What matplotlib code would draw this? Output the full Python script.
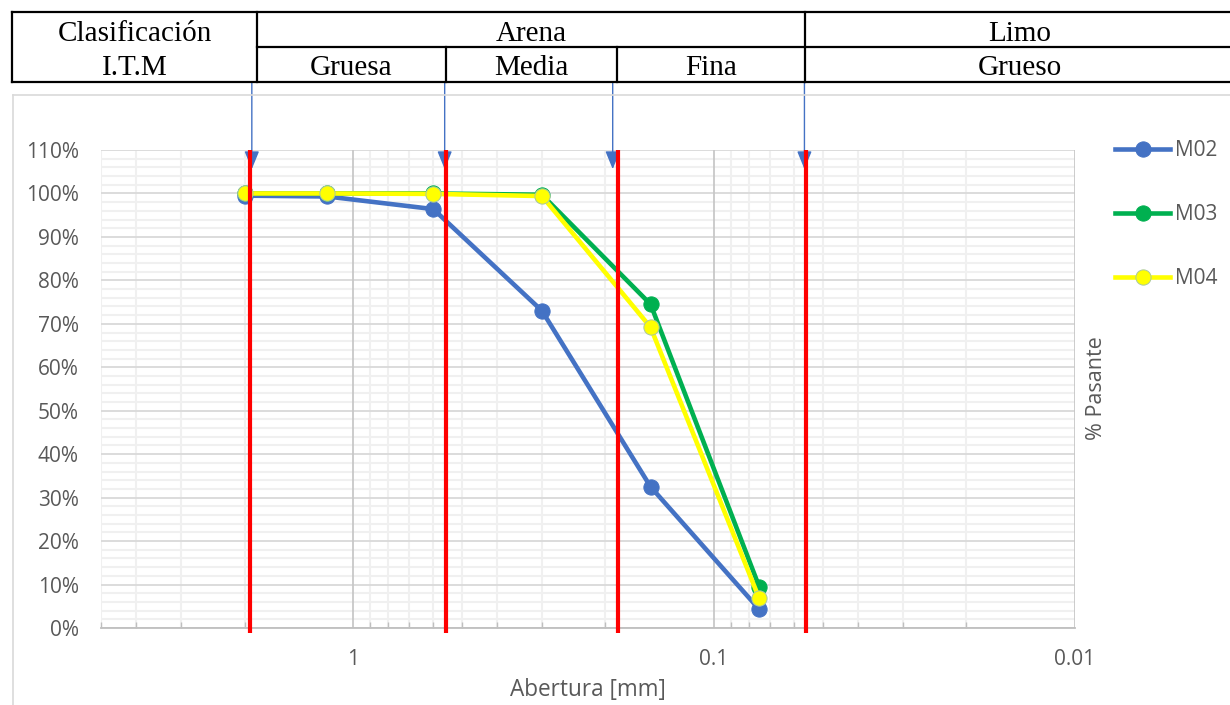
import matplotlib
matplotlib.use("Agg")
import matplotlib.pyplot as plt
from matplotlib.lines import Line2D
from matplotlib.ticker import FixedLocator, FuncFormatter, MultipleLocator, NullFormatter

# ---------- DATOS ----------
aberturas = [2.0, 1.18, 0.6, 0.3, 0.15, 0.075]   # mm
m02 = [99.5, 99.3, 96.4, 73.0, 32.5, 4.3]
m03 = [100.0, 100.0, 100.0, 99.7, 74.5, 9.5]
m04 = [100.0, 100.0, 99.9, 99.4, 69.2, 6.8]
series = [("M02", m02, "#4472C4"), ("M03", m03, "#00B050"), ("M04", m04, "#FFFF00")]

# limites de la clasificacion I.T.M (mm)
limites_itm = [1.93, 0.552, 0.185, 0.0555]
flechas_itm = [1.91, 0.558, 0.191, 0.0562]

encabezado_titulo = ["Clasificación", "I.T.M"]
encabezado_fila1 = ["Arena", "Limo"]
encabezado_fila2 = ["Gruesa", "Media", "Fina", "Grueso"]

x_ticks = [1, 0.1, 0.01]
x_tick_labels = ["1", "0.1", "0.01"]

# ---------- FIGURA ----------
W, H = 1230, 705
fig = plt.figure(figsize=(W / 100, H / 100), dpi=100)


def fx(px):
    return px / W


def fy(py):
    return 1 - py / H


ax = fig.add_axes([fx(101), fy(628), fx(1075) - fx(101), fy(150) - fy(628)])
ax.set_xscale("log")
ax.set_xlim(5, 0.01)
ax.set_ylim(0, 110)

tick_color = "#595959"
sans = "Open Sans"

# grid
ax.set_axisbelow(True)
ax.xaxis.set_major_locator(FixedLocator(x_ticks))
minors = [m * 10 ** e for e in (-2, -1, 0) for m in range(2, 10) if 0.01 < m * 10 ** e <= 5]
ax.xaxis.set_minor_locator(FixedLocator(minors))
ax.xaxis.set_major_formatter(FuncFormatter(lambda v, p: x_tick_labels[x_ticks.index(v)] if v in x_ticks else ""))
ax.xaxis.set_minor_formatter(NullFormatter())
ax.yaxis.set_major_locator(MultipleLocator(10))
ax.yaxis.set_minor_locator(MultipleLocator(2))
ax.yaxis.set_major_formatter(FuncFormatter(lambda v, p: f"{v:.0f}%"))

ax.grid(axis="y", which="major", color="#D9D9D9", lw=1.3)
ax.grid(which="minor", color="#F0F0F0", lw=1.5)
# lineas principales verticales por encima de la malla menor
ax.vlines(x_ticks, 0, 110, colors="#C8C8C8", lw=1.3, zorder=1.5)

for s in ["left", "right", "top"]:
    ax.spines[s].set_visible(False)
ax.spines["bottom"].set_color("#BFBFBF")
ax.spines["bottom"].set_linewidth(1.3)

ax.tick_params(axis="x", which="major", length=0, pad=15, labelsize=15, labelcolor=tick_color)
ax.tick_params(axis="x", which="minor", direction="in", length=4, color="#BFBFBF", width=1)
ax.tick_params(axis="y", which="both", length=0, pad=16, labelsize=15, labelcolor=tick_color)
for lab in ax.get_xticklabels() + ax.get_yticklabels():
    lab.set_fontfamily(sans)

# series
for nombre, valores, color in series:
    edge = "#A9C8A0" if nombre == "M04" else color
    ax.plot(aberturas, valores, color=color, lw=3.3, marker="o", markersize=11,
            markerfacecolor=color, markeredgecolor=edge, markeredgewidth=0.7,
            label=nombre, zorder=3, clip_on=False)

# lineas rojas de limites
ax.vlines(limites_itm, -1.2, 110, colors="#FF0000", lw=3, zorder=5, clip_on=False)

# flechas desde el encabezado
for xv in flechas_itm:
    ax.annotate("", xy=(xv, 105.6), xycoords="data",
                xytext=(xv, H - 82), textcoords=("data", "figure pixels"),
                arrowprops=dict(arrowstyle="-|>,head_length=1.1,head_width=0.45",
                                color="#4472C4", lw=1, shrinkA=0, shrinkB=0),
                zorder=4, annotation_clip=False)

# leyenda
leg = ax.legend(loc="upper left", bbox_to_anchor=(fx(1115), fy(140)), bbox_transform=fig.transFigure,
                frameon=False, handlelength=2.65, handletextpad=0.25, labelspacing=2.06,
                borderpad=0, borderaxespad=0, prop={"family": sans, "size": 15})
for t in leg.get_texts():
    t.set_color(tick_color)

fig.text(fx(588), fy(690), "Abertura [mm]", ha="center", va="center", family=sans, size=16.3, color=tick_color)
fig.text(fx(1097), fy(388), "% Pasante", ha="center", va="center", rotation=90, family=sans, size=15.5,
         color=tick_color)

# borde del area del grafico
fig.add_artist(Line2D([fx(13), fx(13)], [fy(95), 0], color="#D9D9D9", lw=1.2))
fig.add_artist(Line2D([fx(13), 1], [fy(95), fy(95)], color="#D9D9D9", lw=1.2))

# ---------- TABLA DE CLASIFICACION ----------
lineas_h = [(12, 1230, 12), (12, 1230, 82), (257, 1230, 47)]
lineas_v = [(12, 12, 82), (257, 12, 82), (805, 12, 82), (446, 47, 82), (617, 47, 82)]
for x0, x1, y in lineas_h:
    fig.add_artist(Line2D([fx(x0), fx(x1)], [fy(y), fy(y)], color="black", lw=1.6))
for x, y0, y1 in lineas_v:
    fig.add_artist(Line2D([fx(x), fx(x)], [fy(y0), fy(y1)], color="black", lw=1.6))

serif = "Liberation Serif"
fig.text(fx(135), fy(41), encabezado_titulo[0], ha="center", va="baseline", family=serif, size=21)
fig.text(fx(135), fy(75), encabezado_titulo[1], ha="center", va="baseline", family=serif, size=21)
for texto, cx in zip(encabezado_fila1, [531, 1020]):
    fig.text(fx(cx), fy(41), texto, ha="center", va="baseline", family=serif, size=21)
for texto, cx in zip(encabezado_fila2, [351, 531, 711, 1020]):
    fig.text(fx(cx), fy(75), texto, ha="center", va="baseline", family=serif, size=21)

fig.savefig("out.png", dpi=100)
